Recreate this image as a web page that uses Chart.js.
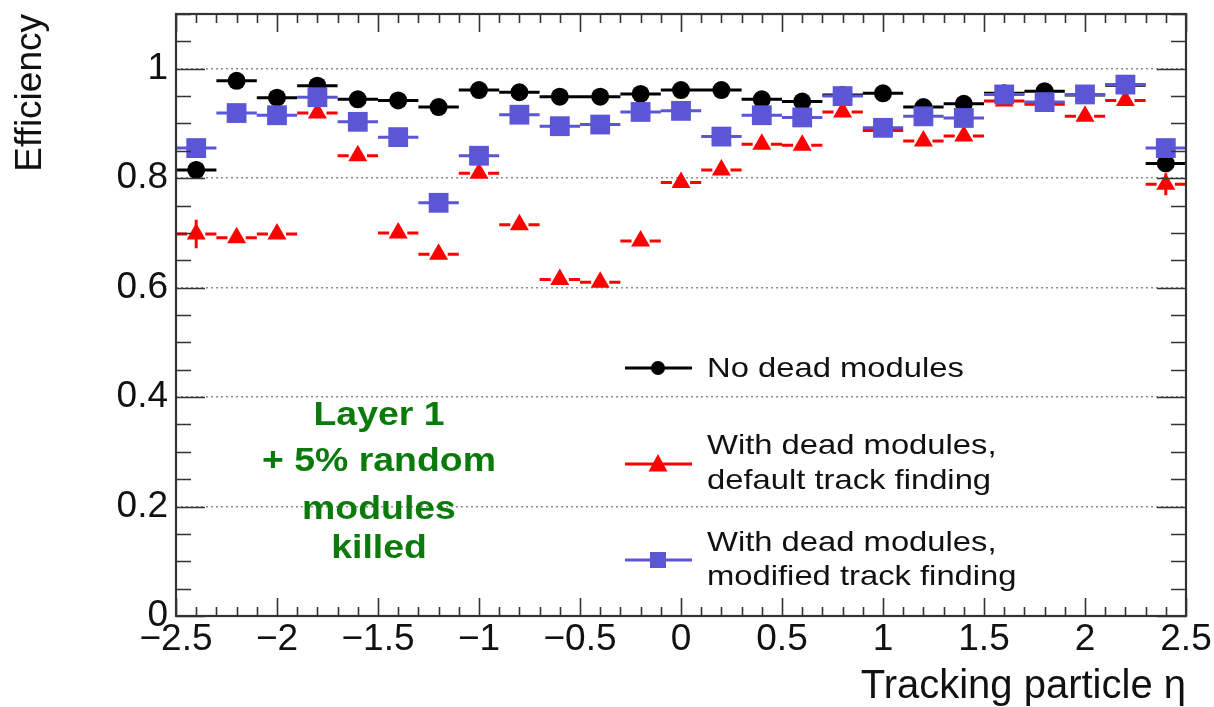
<!DOCTYPE html>
<html><head><meta charset="utf-8">
<script src="https://cdn.jsdelivr.net/npm/chart.js@4.4.1/dist/chart.umd.min.js"></script>
<style>html,body{margin:0;padding:0;background:#fff;overflow:hidden}canvas{display:block}</style>
</head><body>
<canvas id="c" width="1214" height="707"></canvas>
<script>
// ---------- data ----------
const etaCenters = [-2.4,-2.2,-2.0,-1.8,-1.6,-1.4,-1.2,-1.0,-0.8,-0.6,-0.4,-0.2,0.0,0.2,0.4,0.6,0.8,1.0,1.2,1.4,1.6,1.8,2.0,2.2,2.4];
const binHalfWidth = 0.1;
const effNoDead   = [0.815,0.978,0.947,0.969,0.944,0.942,0.930,0.961,0.957,0.949,0.949,0.954,0.961,0.961,0.944,0.940,0.952,0.955,0.930,0.936,0.955,0.959,0.952,0.970,0.827];
const errNoDead   = [0.016,0.004,0.004,0.004,0.004,0.004,0.004,0.004,0.004,0.004,0.004,0.004,0.004,0.004,0.004,0.004,0.004,0.004,0.004,0.004,0.004,0.004,0.004,0.004,0.012];
const effDefault  = [0.698,0.691,0.698,0.919,0.841,0.700,0.661,0.809,0.715,0.615,0.610,0.685,0.792,0.815,0.862,0.860,0.921,0.887,0.868,0.877,0.941,0.935,0.913,0.942,0.789];
const errDefault  = [0.026,0.006,0.006,0.005,0.006,0.006,0.006,0.006,0.006,0.006,0.006,0.006,0.006,0.006,0.006,0.006,0.005,0.006,0.006,0.006,0.005,0.005,0.005,0.005,0.020];
const effModified = [0.855,0.919,0.915,0.948,0.903,0.875,0.755,0.841,0.916,0.895,0.898,0.921,0.923,0.876,0.915,0.911,0.950,0.892,0.913,0.910,0.953,0.939,0.953,0.971,0.855];
const errModified = [0.014,0.004,0.004,0.004,0.004,0.004,0.005,0.005,0.004,0.004,0.004,0.004,0.004,0.004,0.004,0.004,0.004,0.004,0.004,0.004,0.004,0.004,0.004,0.004,0.012];
const xTickValues = [-2.5,-2,-1.5,-1,-0.5,0,0.5,1,1.5,2,2.5];
const yTickValues = [0,0.2,0.4,0.6,0.8,1];
const xTitle = "Tracking particle \u03b7";
const yTitle = "Efficiency";
const seriesNames = ["No dead modules", "With dead modules, default track finding", "With dead modules, modified track finding"];
const legendLines = [["No dead modules"],["With dead modules,","default track finding"],["With dead modules,","modified track finding"]];
const annotationLines = ["Layer 1","+ 5% random","modules","killed"];

// ---------- styles ----------
const COL_BLACK = '#000000', COL_RED = '#ff0000', COL_BLUE = '#5a56d6', COL_GREEN = '#0a7a0a';
const FONT = '"Liberation Sans", Arial, Helvetica, sans-serif';

function barSegments(vals, errs, gap) {
  const pts = [];
  etaCenters.forEach((x, i) => {
    const y = vals[i];
    if (gap > 0) {
      pts.push({x: x - binHalfWidth, y}, {x: x - gap, y}, {x: x, y: null});
      pts.push({x: x + gap, y}, {x: x + binHalfWidth, y}, {x: x, y: null});
    } else {
      pts.push({x: x - binHalfWidth, y}, {x: x + binHalfWidth, y}, {x: x, y: null});
    }
    pts.push({x: x, y: y - errs[i]}, {x: x, y: y + errs[i]}, {x: x, y: null});
  });
  return pts;
}
function markers(vals) { return etaCenters.map((x, i) => ({x, y: vals[i]})); }

const barDs = (label, vals, errs, color, gap, order) => ({
  type: 'scatter', label, data: barSegments(vals, errs, gap), showLine: true, spanGaps: false,
  borderColor: color, borderWidth: 3, pointRadius: 0, pointHoverRadius: 0, order
});
const markDs = (label, vals, color, style, radius, order) => ({
  type: 'scatter', label, data: markers(vals), showLine: false,
  pointStyle: style, pointRadius: radius, pointHoverRadius: radius,
  backgroundColor: color, borderColor: color, borderWidth: 0, order
});

const frameTicks = {
  id: 'frameTicks',
  afterDatasetsDraw(chart) {
    const {ctx, chartArea: {left, right, top, bottom}} = chart;
    const xs = chart.scales.x, ys = chart.scales.y;
    ctx.save();
    ctx.strokeStyle = '#333';
    ctx.lineWidth = 1.6;
    ctx.beginPath();
    for (let k = -25; k <= 25; k++) {
      const px = Math.round(xs.getPixelForValue(k / 10)) + 0.5;
      const len = (k % 5 === 0) ? 18 : 9;
      ctx.moveTo(px, bottom); ctx.lineTo(px, bottom - len);
      ctx.moveTo(px, top); ctx.lineTo(px, top + len);
    }
    for (let k = 0; k <= 22; k++) {
      const py = Math.round(ys.getPixelForValue(k * 0.05)) + 0.5;
      const len = (k % 4 === 0) ? 29 : 15;
      ctx.moveTo(left, py); ctx.lineTo(left + len, py);
      ctx.moveTo(right, py); ctx.lineTo(right - len, py);
    }
    ctx.stroke();
    ctx.lineWidth = 2.2;
    ctx.strokeRect(left, top, right - left, bottom - top);
    ctx.restore();
  }
};

function drawMarker(ctx, style, x, y, r, color) {
  ctx.fillStyle = color;
  ctx.beginPath();
  if (style === 'circle') { ctx.arc(x, y, r, 0, Math.PI * 2); }
  else if (style === 'rect') { ctx.rect(x - r, y - r, 2 * r, 2 * r); }
  else { ctx.moveTo(x, y - r); ctx.lineTo(x + r * 0.95, y + r * 0.75); ctx.lineTo(x - r * 0.95, y + r * 0.75); ctx.closePath(); }
  ctx.fill();
}

const overlay = {
  id: 'overlay',
  afterDraw(chart) {
    const ctx = chart.ctx;
    ctx.save();
    // legend
    const rows = [
      {lineY: 368, textY: [369], color: COL_BLACK, style: 'circle', r: 7},
      {lineY: 464, textY: [446, 481], color: COL_RED, style: 'triangle', r: 10},
      {lineY: 560, textY: [543, 577], color: COL_BLUE, style: 'rect', r: 8}
    ];
    rows.forEach((row, i) => {
      ctx.strokeStyle = row.color; ctx.lineWidth = 3;
      ctx.beginPath(); ctx.moveTo(625, row.lineY); ctx.lineTo(692, row.lineY); ctx.stroke();
      drawMarker(ctx, row.style, 658, row.lineY, row.r, row.color);
      ctx.fillStyle = '#111';
      ctx.font = '28px ' + FONT;
      ctx.textBaseline = 'middle'; ctx.textAlign = 'left';
      legendLines[i].forEach((t, j) => {
        ctx.save(); ctx.translate(707, row.textY[j]); ctx.scale(1.17, 1); ctx.fillText(t, 0, 0); ctx.restore();
      });
    });
    // annotation
    ctx.fillStyle = COL_GREEN;
    ctx.font = 'bold 34px ' + FONT;
    ctx.textAlign = 'center'; ctx.textBaseline = 'middle';
    const annY = [416, 462, 510, 549];
    annotationLines.forEach((t, j) => {
      ctx.save(); ctx.translate(379, annY[j]); ctx.scale(1.1, 1); ctx.fillText(t, 0, 0); ctx.restore();
    });
    ctx.restore();
  }
};

const fmt = v => (v < 0 ? '\u2212' + String(Math.abs(v)) : String(v));

new Chart(document.getElementById('c'), {
  type: 'scatter',
  data: {
    datasets: [
      barDs('bars ' + seriesNames[0], effNoDead, errNoDead, COL_BLACK, 0, 5),
      markDs(seriesNames[0], effNoDead, COL_BLACK, 'circle', 9, 4),
      barDs('bars ' + seriesNames[1], effDefault, errDefault, COL_RED, 0.045, 3),
      markDs(seriesNames[1], effDefault, COL_RED, 'triangle', 11, 2),
      barDs('bars ' + seriesNames[2], effModified, errModified, COL_BLUE, 0, 1),
      markDs(seriesNames[2], effModified, COL_BLUE, 'rect', 14, 0)
    ]
  },
  options: {
    responsive: false,
    animation: false,
    events: [],
    layout: {padding: {left: 0, right: 28, top: 9, bottom: 0}},
    plugins: {legend: {display: false}, tooltip: {enabled: false}, title: {display: false}},
    scales: {
      x: {
        type: 'linear', min: -2.5, max: 2.5,
        afterBuildTicks: s => { s.ticks = xTickValues.map(v => ({value: v})); },
        afterFit: s => { s.height = 91; s.paddingLeft = 0; s.paddingRight = 0; },
        ticks: {callback: v => fmt(v), font: {family: FONT, size: 37}, color: '#111', padding: 2, maxRotation: 0, autoSkip: false},
        grid: {display: false, drawTicks: false},
        border: {display: false},
        title: {display: true, text: xTitle, align: 'end', color: '#111', font: {family: FONT, size: 40, lineHeight: 1.0}, padding: {top: 0, bottom: 0}}
      },
      y: {
        type: 'linear', min: 0, max: 1.1,
        afterBuildTicks: s => { s.ticks = yTickValues.map(v => ({value: v})); },
        afterFit: s => { s.width = 176; s.paddingTop = 0; s.paddingBottom = 0; },
        ticks: {callback: v => fmt(v), font: {family: FONT, size: 37}, color: '#111', padding: 8},
        grid: {drawTicks: false, lineWidth: 1.5, color: c => (c.tick && c.tick.value === 0) ? 'rgba(0,0,0,0)' : '#8c8c8c'},
        border: {display: false, dash: [2, 3]},
        title: {display: true, text: yTitle, align: 'end', color: '#111', font: {family: FONT, size: 37, lineHeight: 1.0}, padding: {top: 12, bottom: 0}}
      }
    }
  },
  plugins: [frameTicks, overlay]
});
</script>
</body></html>
